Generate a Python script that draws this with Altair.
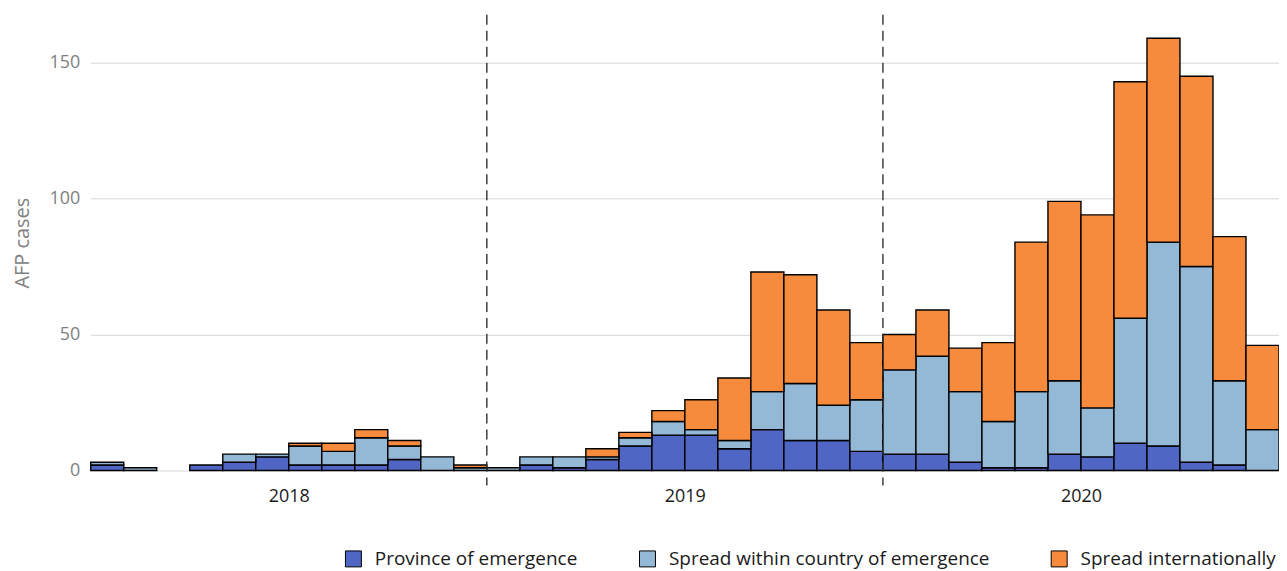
import altair as alt
import pandas as pd

years = ["2018", "2019", "2020"]
month_index = list(range(36))
series = ["Province of emergence", "Spread within country of emergence", "Spread internationally"]
colors = ["#4F66C4", "#94B9D6", "#F68B3D"]

province = [2, 0, 0, 2, 3, 5, 2, 2, 2, 4, 0, 0,
            0, 2, 1, 4, 9, 13, 13, 8, 15, 11, 11, 7,
            6, 6, 3, 1, 1, 6, 5, 10, 9, 3, 2, 0]
within = [1, 1, 0, 0, 3, 1, 7, 5, 10, 5, 5, 1,
          1, 3, 4, 1, 3, 5, 2, 3, 14, 21, 13, 19,
          31, 36, 26, 17, 28, 27, 18, 46, 75, 72, 31, 15]
intl = [0, 0, 0, 0, 0, 0, 1, 3, 3, 2, 0, 1,
        0, 0, 0, 3, 2, 4, 11, 23, 44, 40, 35, 21,
        13, 17, 16, 29, 55, 66, 71, 87, 75, 70, 53, 31]
year_breaks = [12, 24]
year_centers = [6, 18, 30]

rows = []
for k, vals in enumerate([province, within, intl]):
    for m, v in zip(month_index, vals):
        rows.append({"m": m, "m2": m + 1, "k": k, "series": series[k], "v": v})
df = pd.DataFrame(rows)

FONT = "Open Sans"

bars = alt.Chart(df).transform_stack(
    stack="v", groupby=["m"], as_=["y0", "y1"], sort=[{"field": "k", "order": "ascending"}]
).transform_filter("datum.v > 0").mark_rect(stroke="black", strokeWidth=1.4).encode(
    x=alt.X("m:Q", scale=alt.Scale(domain=[0, 36], nice=False, zero=False),
            axis=alt.Axis(values=year_centers, title=None, grid=False, ticks=False, domain=False,
                          labelExpr="['2018','2019','2020'][(datum.value-6)/12]",
                          labelFontSize=18, labelColor="#1a1a1a", labelPadding=17, labelFont=FONT)),
    x2="m2:Q",
    y=alt.Y("y0:Q", scale=alt.Scale(domain=[0, 167.6], nice=False),
            axis=alt.Axis(values=[0, 50, 100, 150], title="AFP cases", domain=False, ticks=False,
                          gridColor="#d6d6d6", gridWidth=1,
                          labelFontSize=18, labelColor="#808080", labelPadding=11, labelFont=FONT,
                          titleFontSize=20, titleColor="#808080", titleFont=FONT, titleFontWeight="normal",
                          titlePadding=17)),
    y2="y1:Q",
    fill=alt.Fill("series:N", scale=alt.Scale(domain=series, range=colors),
                  legend=alt.Legend(title=None, orient="none", legendX=254, legendY=536,
                                    direction="horizontal", symbolType="square", symbolSize=256,
                                    symbolStrokeColor="black", symbolStrokeWidth=1,
                                    labelFontSize=19, labelFont=FONT, labelColor="#1a1a1a",
                                    labelLimit=0, labelOffset=12, columnPadding=59, symbolOpacity=1)),
)

rules = alt.Chart(pd.DataFrame({"b": year_breaks})).mark_rule(
    strokeDash=[10, 6], color="#333333", strokeWidth=1.4, clip=False
).encode(x="b:Q", y=alt.value(0), y2=alt.value(472))

chart = alt.layer(bars, rules).properties(
    width=1192, height=457,
    autosize=alt.AutoSizeParams(type="none"),
    padding={"left": 83, "top": 6, "right": 0, "bottom": 99},
).configure_view(stroke=None)

chart.save("out.html", embed_options={"renderer": "svg", "actions": False})
